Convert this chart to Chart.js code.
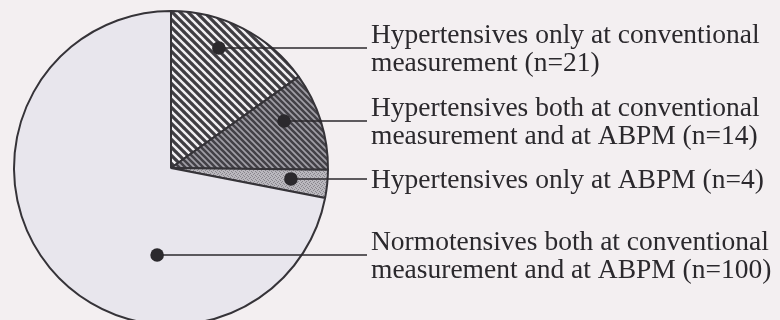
<!DOCTYPE html>
<html>
<head>
<meta charset="utf-8">
<script src="https://cdn.jsdelivr.net/npm/chart.js@4"></script>
<style>
  html, body { margin: 0; padding: 0; overflow: hidden; background: #f3eff1; }
  #wrap { position: relative; width: 780px; height: 340px; }
</style>
</head>
<body>
<div id="wrap"><canvas id="pie"></canvas></div>
<script>
// groups of the study population
const groupNames = [
  ["Hypertensives only at conventional", "measurement"],
  ["Hypertensives both at conventional", "measurement and at ABPM"],
  ["Hypertensives only at ABPM"],
  ["Normotensives both at conventional", "measurement and at ABPM"]
];
const groupCounts = [21, 14, 4, 100];

// -------------------------
// FILL PATTERNS
// -------------------------
function hatch(size, bg, fg, lw) {
  const c = document.createElement("canvas");
  c.width = size;
  c.height = size;
  const g = c.getContext("2d");
  g.fillStyle = bg;
  g.fillRect(0, 0, size, size);
  g.strokeStyle = fg;
  g.lineWidth = lw;
  g.beginPath();
  for (const k of [-size, 0, size]) {
    g.moveTo(k - 1, -1);
    g.lineTo(k + size + 1, size + 1);
  }
  g.stroke();
  return g.createPattern(c, "repeat");
}

function stipple() {
  const c = document.createElement("canvas");
  c.width = 4;
  c.height = 4;
  const g = c.getContext("2d");
  g.fillStyle = "#bab8be";
  g.fillRect(0, 0, 4, 4);
  g.fillStyle = "#88868c";
  g.fillRect(0, 0, 1, 1);
  g.fillRect(2, 1, 1, 1);
  g.fillRect(1, 2, 1, 1);
  g.fillRect(3, 3, 1, 1);
  return g.createPattern(c, "repeat");
}

// -------------------------
// CALLOUT LABELS
// -------------------------
const callouts = {
  id: "callouts",
  afterDraw(chart, args, opts) {
    const ctx = chart.ctx;
    const arcs = chart.getDatasetMeta(0).data;
    ctx.save();
    ctx.font = opts.font;
    ctx.fillStyle = opts.color;
    ctx.strokeStyle = opts.color;
    arcs.forEach((arc, i) => {
      const a = opts.anchors[i];
      const ang = arc.startAngle + (arc.endAngle - arc.startAngle) * a.t;
      const rr = arc.outerRadius * a.r;
      const x = arc.x + Math.cos(ang) * rr;
      const y = arc.y + Math.sin(ang) * rr;

      ctx.lineWidth = 1.6;
      ctx.beginPath();
      ctx.moveTo(x, y);
      ctx.lineTo(opts.lineEnd, y);
      ctx.stroke();

      ctx.beginPath();
      ctx.arc(x, y, 6.8, 0, Math.PI * 2);
      ctx.fill();

      const lines = groupNames[i].slice();
      lines[lines.length - 1] += " (n=" + groupCounts[i] + ")";
      const blockH = opts.capHeight + opts.lineHeight * (lines.length - 1);
      let base = y - blockH / 2 + opts.capHeight;
      ctx.textBaseline = "alphabetic";
      lines.forEach(t => {
        ctx.fillText(t, opts.textX, base);
        base += opts.lineHeight;
      });
    });
    ctx.restore();
  }
};

// -------------------------
// INIT CHART
// -------------------------
const ctx = document.getElementById("pie").getContext("2d");

new Chart(ctx, {
  type: "pie",
  data: {
    labels: groupNames.map(n => n.join(" ")),
    datasets: [{
      data: groupCounts,
      backgroundColor: [
        hatch(8, "#f1eff2", "#3f3d42", 3.2),
        hatch(6, "#a09ea6", "#434147", 2.6),
        stipple(),
        "#e8e6ed"
      ],
      borderColor: "#353338",
      borderWidth: 2
    }]
  },
  options: {
    responsive: true,
    maintainAspectRatio: false,
    animation: false,
    layout: {
      padding: { left: 13, top: 10, right: 451, bottom: 14 }
    },
    plugins: {
      legend: { display: false },
      tooltip: { enabled: false },
      callouts: {
        font: "27.5px 'Liberation Serif'",
        color: "#2b292d",
        textX: 371,
        lineEnd: 367,
        lineHeight: 28,
        capHeight: 17.5,
        anchors: [
          { t: 0.40, r: 0.823 },
          { t: 0.359, r: 0.78 },
          { t: 0.44, r: 0.767 },
          { t: 0.34, r: 0.561 }
        ]
      }
    }
  },
  plugins: [callouts]
});
</script>
</body>
</html>
